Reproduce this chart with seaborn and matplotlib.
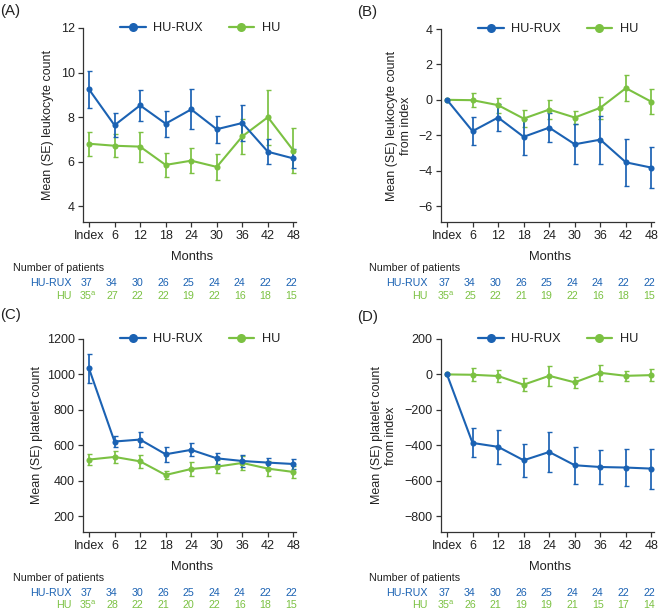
import numpy as np
import pandas as pd
import matplotlib
matplotlib.use("Agg")
import matplotlib.pyplot as plt
import matplotlib.transforms as mtransforms
from matplotlib.lines import Line2D
import seaborn as sns

sns.set_theme(style="ticks")
plt.rcParams['font.family'] = ['Liberation Sans', 'DejaVu Sans']

# ---------------- data ----------------
months = [0, 6, 12, 18, 24, 30, 36, 42, 48]
month_labels = ["Index", "6", "12", "18", "24", "30", "36", "42", "48"]
groups = ["HU-RUX", "HU"]

wbc_rux_mean = [9.25, 7.64, 8.53, 7.71, 8.35, 7.46, 7.74, 6.45, 6.15]
wbc_rux_se = [0.84, 0.55, 0.69, 0.58, 0.90, 0.60, 0.80, 0.56, 0.44]
wbc_hu_mean = [6.81, 6.72, 6.68, 5.86, 6.05, 5.77, 7.14, 8.00, 6.50]
wbc_hu_se = [0.54, 0.52, 0.67, 0.55, 0.55, 0.58, 0.79, 1.24, 1.02]

dwbc_rux_mean = [0.0, -1.77, -1.00, -2.09, -1.57, -2.51, -2.25, -3.53, -3.83]
dwbc_rux_se = [0.0, 0.80, 0.75, 1.00, 0.82, 1.13, 1.36, 1.32, 1.14]
dwbc_hu_mean = [0.0, -0.02, -0.30, -1.06, -0.55, -1.00, -0.45, 0.66, -0.11]
dwbc_hu_se = [0.0, 0.40, 0.43, 0.50, 0.56, 0.36, 0.62, 0.72, 0.70]

plt_rux_mean = [1034, 621, 632, 549, 574, 526, 511, 502, 494]
plt_rux_se = [83, 33, 42, 41, 36, 32, 34, 28, 31]
plt_hu_mean = [519, 534, 509, 432, 466, 479, 500, 468, 449]
plt_hu_se = [29, 35, 38, 21, 40, 37, 38, 42, 36]

dplt_rux_mean = [0, -387, -409, -485, -438, -513, -523, -526, -532]
dplt_rux_se = [0, 82, 96, 94, 111, 104, 97, 103, 113]
dplt_hu_mean = [0, -2, -9, -58, -8, -45, 9, -8, -4]
dplt_hu_se = [0, 36, 32, 35, 57, 33, 45, 30, 32]

n_rux = ["37", "34", "30", "26", "25", "24", "24", "22", "22"]
n_hu_a = ["35", "27", "22", "22", "19", "22", "16", "18", "15"]
n_hu_b = ["35", "25", "22", "21", "19", "22", "16", "18", "15"]
n_hu_c = ["35", "28", "22", "21", "20", "22", "16", "18", "15"]
n_hu_d = ["35", "26", "21", "19", "19", "21", "15", "17", "14"]

ylabels = ["Mean (SE) leukocyte count",
           "Mean (SE) leukocyte count\nfrom index",
           "Mean (SE) platelet count",
           "Mean (SE) platelet count\nfrom index"]
panel_letters = ["(A)", "(B)", "(C)", "(D)"]

# ---------------- style ----------------
BLUE = "#1b62b3"
GREEN = "#7bc142"
palette = {"HU-RUX": BLUE, "HU": GREEN}
TXT = "#222222"
FS = 9.0
FS_TAB = 7.7

W, H = 663, 613
fig = plt.figure(figsize=(W / 100, H / 100), dpi=100)

def fx(px):
    return px / W

def fy(py):
    return 1 - py / H

# axes boxes in pixels: left, top, right, bottom
boxes = [(83, 28, 296, 222), (441, 29, 654, 222),
         (83, 339, 296, 532), (441, 339, 654, 532)]
ylims = [(3.3, 12), (-6.9, 4), (110, 1200), (-890, 200)]
yticks = [[4, 6, 8, 10, 12], [-6, -4, -2, 0, 2, 4],
          [200, 400, 600, 800, 1000, 1200], [-800, -600, -400, -200, 0, 200]]
ytlabels = [[str(v).replace("-", "\u2212") for v in t] for t in yticks]

series = [
    (wbc_rux_mean, wbc_rux_se, wbc_hu_mean, wbc_hu_se, n_hu_a),
    (dwbc_rux_mean, dwbc_rux_se, dwbc_hu_mean, dwbc_hu_se, n_hu_b),
    (plt_rux_mean, plt_rux_se, plt_hu_mean, plt_hu_se, n_hu_c),
    (dplt_rux_mean, dplt_rux_se, dplt_hu_mean, dplt_hu_se, n_hu_d),
]
letter_pos = [(0, 11), (357, 12), (0, 315), (357, 317)]
table_rows = [(257, 268, 283, 296), (257, 268, 283, 296),
              (567, 578, 593, 605), (567, 578, 593, 605)]
table_left = [13, 369, 13, 369]
rowlabel_right = [72, 428, 72, 428]
ylabel_x = [48, 399, 37, 384]

for i in range(4):
    l, t, r, b = boxes[i]
    ax = fig.add_axes([fx(l), fy(b), fx(r - l), fy(t) - fy(b)])
    rm, rse, hm, hse, nhu = series[i]
    df = pd.DataFrame({
        "month": months * 2,
        "value": list(rm) + list(hm),
        "se": list(rse) + list(hse),
        "group": ["HU-RUX"] * len(months) + ["HU"] * len(months),
    })
    # error bars
    for g, z in (("HU", 2), ("HU-RUX", 3)):
        sub = df[df.group == g]
        mask = sub.se > 0
        ax.errorbar(sub.month[mask], sub.value[mask], yerr=sub.se[mask],
                    fmt="none", ecolor=palette[g], elinewidth=1.25,
                    capsize=1.8, capthick=1.0, zorder=z)
    sns.lineplot(data=df, x="month", y="value", hue="group",
                 hue_order=["HU", "HU-RUX"], palette=palette,
                 marker="o", markersize=4.4, markeredgewidth=0,
                 linewidth=1.5, ax=ax, legend=False, zorder=4)

    ax.set_xlim(-1.4, 48.6)
    ax.set_ylim(*ylims[i])
    ax.set_xticks(months)
    ax.set_xticklabels(month_labels)
    ax.set_yticks(yticks[i])
    ax.set_yticklabels(ytlabels[i])
    ax.tick_params(axis="both", direction="out", length=3.5, width=0.9,
                   color="#333333", labelsize=FS, labelcolor=TXT, pad=2.5)
    for s in ("top", "right"):
        ax.spines[s].set_visible(False)
    for s in ("left", "bottom"):
        ax.spines[s].set_linewidth(0.9)
        ax.spines[s].set_color("#333333")
    ax.set_xlabel("")
    ax.set_ylabel("")

    # y label
    fig.text(fx(ylabel_x[i]), (fy(t) + fy(b)) / 2, ylabels[i], rotation=90,
             ha="center", va="center", fontsize=FS, color=TXT,
             linespacing=1.25)
    # Months label
    mrow, nrow, rrow, hrow = table_rows[i]
    fig.text((fx(l) + fx(r)) / 2 + 0.004, fy(mrow), "Months", ha="center",
             va="center", fontsize=FS + 0.3, color=TXT)
    # panel letter
    fig.text(fx(letter_pos[i][0]), fy(letter_pos[i][1]), panel_letters[i],
             ha="left", va="center", fontsize=10.8, color=TXT)

    # legend
    handles = [Line2D([0], [0], color=BLUE, lw=1.6, marker="o", markersize=6.5,
                      markeredgewidth=0),
               Line2D([0], [0], color=GREEN, lw=1.6, marker="o", markersize=6.5,
                      markeredgewidth=0)]
    leg = ax.legend(handles, groups, loc="center", bbox_to_anchor=(0.55, 1.0),
                    ncol=2, frameon=False, fontsize=FS + 0.2, handlelength=2.0,
                    columnspacing=2.0, handletextpad=0.6)
    for txt in leg.get_texts():
        txt.set_color(TXT)

    # number of patients table
    trans = mtransforms.blended_transform_factory(ax.transData, fig.transFigure)
    fig.text(fx(table_left[i]), fy(nrow), "Number of patients", ha="left",
             va="center", fontsize=FS_TAB, color=TXT)
    fig.text(fx(rowlabel_right[i]), fy(rrow), "HU-RUX", ha="right",
             va="center", fontsize=FS_TAB, color=BLUE)
    fig.text(fx(rowlabel_right[i]), fy(hrow), "HU", ha="right",
             va="center", fontsize=FS_TAB, color=GREEN)
    for k, m in enumerate(months):
        fig.text(m - 0.6, fy(rrow), n_rux[k], transform=trans, ha="center",
                 va="center", fontsize=FS_TAB, color=BLUE)
        lab = nhu[k] + (r"$^{\mathregular{a}}$" if k == 0 else "")
        fig.text(m - 0.6 + (0.35 if k == 0 else 0), fy(hrow), lab,
                 transform=trans, ha="center", va="center", fontsize=FS_TAB,
                 color=GREEN)

fig.savefig("out.png", dpi=100)
